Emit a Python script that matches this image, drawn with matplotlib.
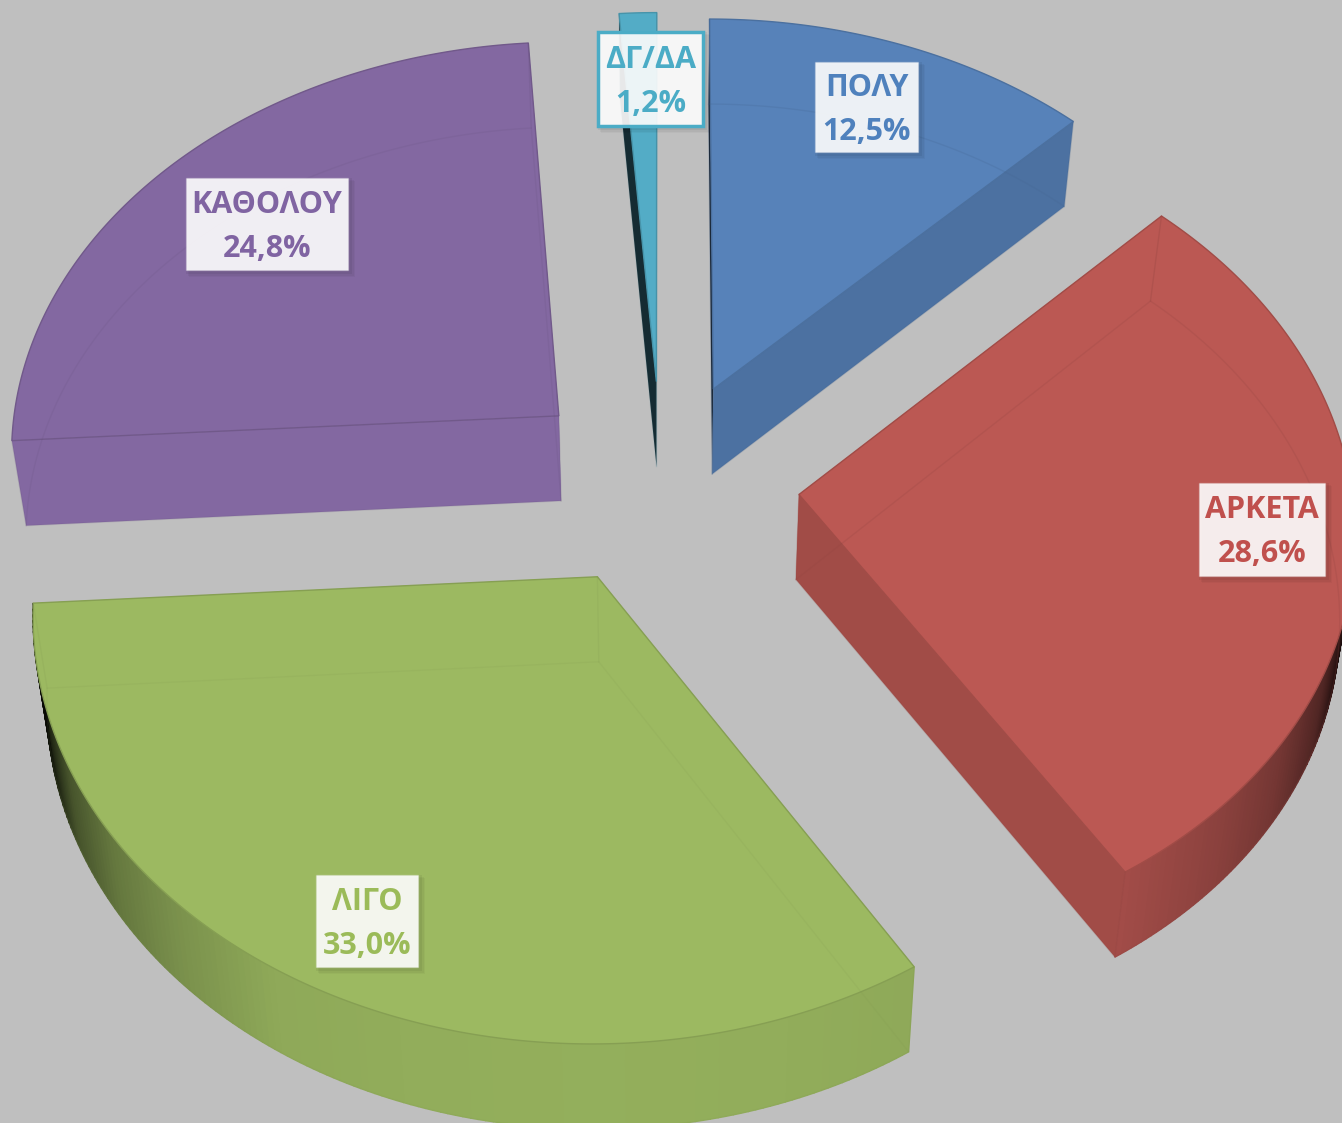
import numpy as np
import matplotlib
matplotlib.use("Agg")
import matplotlib.pyplot as plt
from matplotlib.patches import Polygon, Rectangle
from matplotlib.colors import to_rgb

# ---- data ----
categories = ["ΠΟΛΥ", "ΑΡΚΕΤΑ", "ΛΙΓΟ", "ΚΑΘΟΛΟΥ", "ΔΓ/ΔΑ"]
values = [12.5, 28.6, 33.0, 24.8, 1.2]
value_labels = ["12,5%", "28,6%", "33,0%", "24,8%", "1,2%"]

# ---- style / layout ----
face_colors = ["#5782B9", "#BB5853", "#9CB961", "#8368A1", "#53ACC6"]
text_colors = ["#4F81BD", "#C0504D", "#9BBB59", "#8064A2", "#4BACC6"]
start_wall_shade = [0.25, 1.0, 1.0, 1.0, 0.25]
end_wall_shade = [0.87, 0.86, 1.0, 1.0, 0.25]
rim_gain = [1.0, 1.0, 1.05, 1.0, 1.0]
ghost_alpha = [0.22, 0.22, 0.10, 0.16, 0.1]
label_boxes = [(815, 62, 918, 152), (1199, 483, 1325, 576), (316, 875, 418, 967),
               (186, 178, 348, 270), (598, 32, 703, 126)]
W, H = 1342, 1123
CX, CY, R, K, P, EXPLODE = 661.5, 483, 552, 0.75, 0.08, 0.25
DEPTH, CONVERGE = 85, 0.022
BG = "#BFBFBF"

plt.rcParams["font.family"] = ["Open Sans", "DejaVu Sans"]
fig = plt.figure(figsize=(W / 100, H / 100), dpi=100, facecolor=BG)
ax = fig.add_axes([0, 0, 1, 1])
ax.set_xlim(0, W)
ax.set_ylim(H, 0)
ax.axis("off")


def project(u, v):
    s = 1 / (1 + P * v)
    return CX + R * u * s, CY - R * K * v * s


def drop(x, y):
    return x - (x - CX) * CONVERGE, y + DEPTH


def rim_shade(a):
    return np.interp(abs(np.sin(a)), [0, 0.3, 0.53, 0.71, 0.82, 0.91, 0.94, 0.98, 1.0],
                     [0.90, 0.89, 0.87, 0.74, 0.62, 0.43, 0.28, 0.08, 0.02])


def scaled(color, f):
    return tuple(min(c * f, 1.0) for c in to_rgb(color))


total = sum(values)
angles = np.concatenate([[0], np.cumsum(values) / total * 2 * np.pi])

for i, name in enumerate(categories):
    a0, a1 = angles[i], angles[i + 1]
    mid = (a0 + a1) / 2
    ou, ov = EXPLODE * np.sin(mid), EXPLODE * np.cos(mid)
    t = np.linspace(a0, a1, 160)
    ax0, ay0 = project(ou, ov)
    arc_x, arc_y = project(ou + np.sin(t), ov + np.cos(t))
    top = np.column_stack([np.r_[ax0, arc_x], np.r_[ay0, arc_y]])
    bx, by = drop(top[:, 0], top[:, 1])
    bottom = np.column_stack([bx, by])
    col = face_colors[i]
    n = len(top)

    # start-side and end-side radial walls
    wall_s = np.array([top[0], top[1], bottom[1], bottom[0]])
    wall_e = np.array([top[0], top[-1], bottom[-1], bottom[0]])
    ax.add_patch(Polygon(wall_s, closed=True, fc=scaled(col, start_wall_shade[i]),
                         ec="none", zorder=2 + i * 0.01))
    ax.add_patch(Polygon(wall_e, closed=True, fc=scaled(col, end_wall_shade[i]),
                         ec="none", zorder=2 + i * 0.01))

    # outer rim, only the part that faces the viewer
    for j in range(1, n - 1):
        am = (t[j - 1] + t[j]) / 2
        if np.cos(am) < -0.06:
            q = np.array([top[j], top[j + 1], bottom[j + 1], bottom[j]])
            c = scaled(col, rim_shade(am) * rim_gain[i])
            ax.add_patch(Polygon(q, closed=True, fc=c, ec=c, lw=1.0, zorder=2.2))

    # top face
    ax.add_patch(Polygon(top, closed=True, fc=col, ec=scaled(col, 0.86), lw=1.0, zorder=3))

    # faint edges seen through the translucent body
    ghost = scaled(col, 0.78)
    ga = ghost_alpha[i]
    ax.add_patch(Polygon(bottom, closed=True, fc="none", ec=ghost, lw=1.0, alpha=ga, zorder=3.1))
    for k in (0, 1, n - 1):
        ax.plot([top[k, 0], bottom[k, 0]], [top[k, 1], bottom[k, 1]], color=ghost,
                lw=1.0, alpha=ga * 1.3, zorder=3.1)

    # label box with soft shadow
    x0, y0, x1, y1 = label_boxes[i]
    for off, al in ((10, 0.03), (7, 0.04), (4, 0.05)):
        ax.add_patch(Rectangle((x0 - 2 + off / 2, y0 - 2 + off / 2), x1 - x0 + 4, y1 - y0 + 4,
                               fc="black", ec="none", alpha=al, zorder=5))
    bordered = name == "ΔΓ/ΔΑ"
    ax.add_patch(Rectangle((x0, y0), x1 - x0, y1 - y0, fc=(1, 1, 1, 0.9),
                           ec=text_colors[i] if bordered else (1, 1, 1, 0.25),
                           lw=2.5 if bordered else 1.0, zorder=6))
    xc, yc = (x0 + x1) / 2, (y0 + y1) / 2
    ax.text(xc, yc - 19, name, color=text_colors[i], fontsize=22, fontweight="bold",
            ha="center", va="center", zorder=7)
    ax.text(xc, yc + 25, value_labels[i], color=text_colors[i], fontsize=22, fontweight="bold",
            ha="center", va="center", zorder=7)

fig.savefig("out.png", dpi=100, facecolor=BG)
